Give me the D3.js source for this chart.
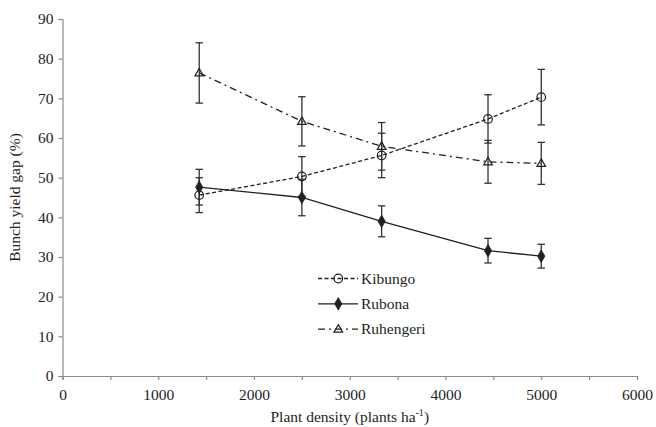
<!DOCTYPE html>
<html>
<head>
<meta charset="utf-8">
<script src="https://cdn.jsdelivr.net/npm/d3@7"></script>
<style>
  html, body { margin: 0; padding: 0; background: #fff; }
  svg { display: block; }
  svg text { font-family: "Liberation Serif", "Times New Roman", serif; }
</style>
</head>
<body>
<svg id="chart" width="656" height="427"></svg>
<script>
// Plant densities (plants per hectare)
const densities = [1428, 2500, 3333, 4444, 5000];

// Bunch yield gap (%) per site, with error bar half-widths
const kibungo    = [45.6, 50.3, 55.6, 64.8, 70.3];
const kibungoErr = [4.4, 5.0, 5.6, 6.1, 7.0];
const rubona     = [47.6, 45.0, 39.0, 31.6, 30.2];
const rubonaErr  = [4.5, 4.6, 3.9, 3.1, 3.0];
const ruhengeri  = [76.4, 64.2, 57.9, 54.0, 53.6];
const ruhengeriErr = [7.6, 6.2, 6.0, 5.4, 5.3];

const seriesNames = ["Kibungo", "Rubona", "Ruhengeri"];
const xTicks = [0, 1000, 2000, 3000, 4000, 5000, 6000];
const yTicks = [0, 10, 20, 30, 40, 50, 60, 70, 80, 90];

const svg = d3.select("#chart");
const plotLeft = 62.5, plotRight = 637, plotTop = 19, plotBottom = 376;
const fontSize = "15.5px";

const x = d3.scaleLinear().domain([0, 6000]).range([plotLeft, plotRight]);
const y = d3.scaleLinear().domain([0, 90]).range([plotBottom, plotTop]);

const axisColor = "#8a8a8a";
const ink = "#231f20";
const textColor = "#1e1e1e";

// Axes
const xAxis = svg.append("g").attr("transform", `translate(0,${plotBottom})`)
  .call(d3.axisBottom(x).tickValues(d3.range(0, 6001, 500)).tickSize(4).tickFormat(d => xTicks.includes(d) ? d : ""));
const yAxis = svg.append("g").attr("transform", `translate(${plotLeft},0)`)
  .call(d3.axisLeft(y).tickValues(yTicks).tickSize(4).tickFormat(d => d));
[xAxis, yAxis].forEach(g => {
  g.attr("font-family", null).attr("font-size", null);
  g.select(".domain").attr("stroke", axisColor).attr("stroke-width", 1.2);
  g.selectAll(".tick line").attr("stroke", axisColor).attr("stroke-width", 1.2);
  g.selectAll(".tick text").attr("fill", textColor).style("font-size", fontSize);
});
xAxis.selectAll(".tick text").attr("y", 9).attr("dy", "0.95em");
yAxis.selectAll(".tick text").attr("x", -9);

// Axis titles
const xTitle = svg.append("text").attr("x", (plotLeft + plotRight) / 2).attr("y", 422)
  .attr("text-anchor", "middle").attr("fill", textColor).style("font-size", fontSize);
xTitle.append("tspan").text("Plant density (plants ha");
xTitle.append("tspan").attr("dy", -6).style("font-size", "10px").text("-1");
xTitle.append("tspan").attr("dy", 6).text(")");

svg.append("text")
  .attr("transform", `translate(20,${(plotTop + plotBottom) / 2}) rotate(-90)`)
  .attr("text-anchor", "middle").attr("fill", textColor).style("font-size", fontSize)
  .text("Bunch yield gap (%)");

const series = [
  { name: seriesNames[0], values: kibungo, err: kibungoErr, dash: "4,2.5", marker: "circle" },
  { name: seriesNames[1], values: rubona, err: rubonaErr, dash: null, marker: "diamond" },
  { name: seriesNames[2], values: ruhengeri, err: ruhengeriErr, dash: "7,4,2,4", marker: "triangle" }
];

const line = d3.line().x(d => x(d[0])).y(d => y(d[1]));

function drawMarker(g, type, cx, cy) {
  if (type === "circle") {
    g.append("circle").attr("cx", cx).attr("cy", cy).attr("r", 4.3)
      .attr("fill", "none").attr("stroke", ink).attr("stroke-width", 1.2);
  } else if (type === "diamond") {
    g.append("path").attr("d", d3.symbol(d3.symbolDiamond, 45)())
      .attr("transform", `translate(${cx},${cy})`).attr("fill", ink).attr("stroke", ink).attr("stroke-width", 0.8);
  } else {
    g.append("path").attr("d", `M${cx},${cy - 4.5}L${cx + 4.3},${cy + 3}L${cx - 4.3},${cy + 3}Z`)
      .attr("fill", "none").attr("stroke", ink).attr("stroke-width", 1.2);
  }
}

// Error bars
series.forEach(s => {
  const g = svg.append("g");
  densities.forEach((d, i) => {
    const cx = x(d), y1 = y(s.values[i] + s.err[i]), y2 = y(s.values[i] - s.err[i]);
    g.append("line").attr("x1", cx).attr("x2", cx).attr("y1", y1).attr("y2", y2)
      .attr("stroke", "#333").attr("stroke-width", 1.3);
    [y1, y2].forEach(yy => g.append("line").attr("x1", cx - 3.7).attr("x2", cx + 3.7)
      .attr("y1", yy).attr("y2", yy).attr("stroke", "#333").attr("stroke-width", 1.3));
  });
});

// Series lines and markers
series.forEach(s => {
  const pts = densities.map((d, i) => [d, s.values[i]]);
  svg.append("path").attr("d", line(pts)).attr("fill", "none")
    .attr("stroke", ink).attr("stroke-width", 1.3)
    .attr("stroke-dasharray", s.dash);
  const g = svg.append("g");
  pts.forEach(p => drawMarker(g, s.marker, x(p[0]), y(p[1])));
});

// Legend
const legend = svg.append("g");
series.forEach((s, i) => {
  const ly = 278.5 + i * 25.3;
  legend.append("line").attr("x1", 318).attr("x2", 358).attr("y1", ly).attr("y2", ly)
    .attr("stroke", ink).attr("stroke-width", 1.3).attr("stroke-dasharray", s.dash);
  drawMarker(legend, s.marker, 338.3, ly);
  legend.append("text").attr("x", 361).attr("y", ly + 5)
    .attr("fill", textColor).style("font-size", fontSize).text(s.name);
});
</script>
</body>
</html>
